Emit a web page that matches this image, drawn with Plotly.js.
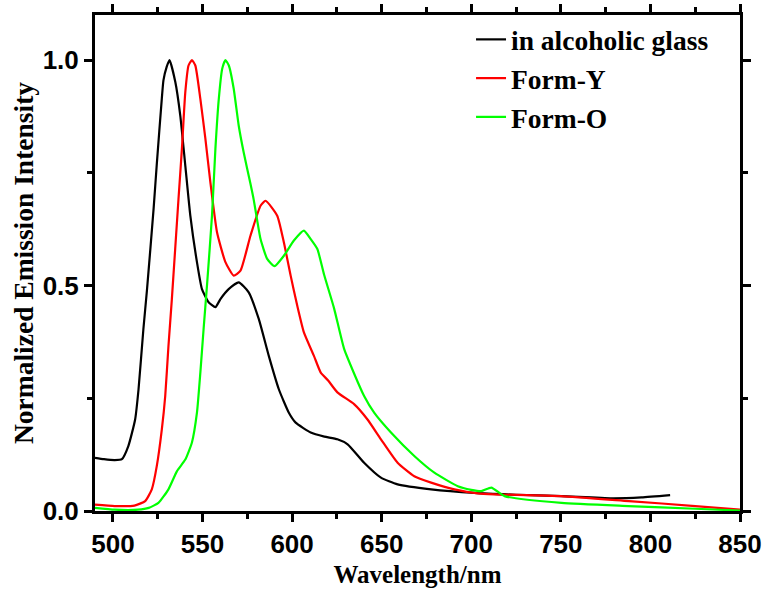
<!DOCTYPE html>
<html>
<head>
<meta charset="utf-8">
<script src="https://cdn.plot.ly/plotly-3.0.1.min.js"></script>
<style>html,body{margin:0;padding:0;background:#fff;}#chart{width:764px;height:594px;}</style>
</head>
<body>
<div id="chart"></div>
<script>
// Series names
const seriesNames = ["in alcoholic glass", "Form-Y", "Form-O"];

// in alcoholic glass (black)
const glassX = [490, 495, 501, 505, 508.6, 512.4, 514.3, 517, 519, 522.7, 524.5, 527.3, 528.2, 530, 531.6, 534.8, 537.6, 540.4, 543.2, 546.9, 549.7, 553.4, 557.2, 560, 564.6, 570.2, 575.8, 581.4, 587, 592.6, 598.2, 602, 610.4, 618, 625.3, 631, 640.2, 649.6, 658.9, 677.6, 701.8, 725, 750.4, 778.4, 795, 811];
const glassY = [0.118, 0.115, 0.113, 0.115, 0.144, 0.203, 0.27, 0.403, 0.49, 0.67, 0.77, 0.915, 0.955, 0.985, 1.0, 0.952, 0.877, 0.766, 0.655, 0.552, 0.492, 0.463, 0.452, 0.47, 0.492, 0.507, 0.485, 0.426, 0.344, 0.27, 0.218, 0.196, 0.174, 0.165, 0.159, 0.148, 0.107, 0.074, 0.059, 0.048, 0.040, 0.036, 0.033, 0.028, 0.030, 0.035];

// Form-Y (red)
const formYX = [490, 501, 512, 518, 521.7, 524.5, 527.3, 529.2, 531, 532.9, 536.6, 538.5, 540.4, 542.2, 544.1, 546, 548.8, 551.6, 554.4, 558.1, 562.8, 567.4, 571.2, 576.8, 582.4, 585.2, 591.7, 595.4, 599.2, 602.9, 606.6, 612.2, 616, 620, 625.3, 634.6, 642.1, 649.6, 658.9, 668.2, 677.6, 690.6, 703.7, 713, 750, 788, 825, 850];
const formYY = [0.014, 0.011, 0.012, 0.022, 0.048, 0.1, 0.181, 0.255, 0.366, 0.47, 0.692, 0.803, 0.929, 0.988, 1.0, 0.988, 0.914, 0.826, 0.729, 0.618, 0.552, 0.522, 0.533, 0.611, 0.677, 0.688, 0.655, 0.596, 0.522, 0.455, 0.396, 0.344, 0.307, 0.29, 0.263, 0.237, 0.203, 0.159, 0.107, 0.077, 0.063, 0.048, 0.039, 0.037, 0.033, 0.022, 0.011, 0.003];

// Form-O (green)
const formOX = [490, 501, 514, 520, 525.4, 531, 535.7, 540.4, 544.1, 546.9, 548.8, 550.6, 552.5, 555.3, 557.2, 559.1, 561, 562.8, 564.7, 567.4, 570.2, 573, 576.8, 578.6, 580.5, 582.4, 586.1, 590.2, 595.4, 601, 606.6, 610.4, 614.1, 617.8, 623.4, 629, 634.6, 640.2, 645.8, 655.2, 668.2, 679.4, 692.5, 700, 705.6, 711.2, 718.6, 750.4, 787.7, 825, 850];
const formOY = [0.007, 0.003, 0.003, 0.007, 0.018, 0.048, 0.088, 0.114, 0.152, 0.218, 0.307, 0.403, 0.5, 0.655, 0.803, 0.914, 0.981, 1.0, 0.988, 0.937, 0.855, 0.795, 0.725, 0.69, 0.645, 0.603, 0.559, 0.543, 0.566, 0.6, 0.622, 0.603, 0.581, 0.525, 0.45, 0.36, 0.305, 0.255, 0.218, 0.174, 0.122, 0.085, 0.055, 0.047, 0.044, 0.052, 0.033, 0.018, 0.011, 0.005, 0.001];

// Tick labels
const xTickVals = [500, 550, 600, 650, 700, 750, 800, 850];
const xTickText = ["500", "550", "600", "650", "700", "750", "800", "850"];
const yTickVals = [0, 0.5, 1.0];
const yTickText = ["0.0", "0.5", "1.0"];

const colors = ["#000000", "#ff0000", "#00ff00"];

const lineStyle = c => ({color: c, width: 2.2, shape: "spline", smoothing: 0.5});
const traces = [
  {x: glassX, y: glassY, name: seriesNames[0], mode: "lines", line: lineStyle(colors[0])},
  {x: formYX, y: formYY, name: seriesNames[1], mode: "lines", line: lineStyle(colors[1])},
  {x: formOX, y: formOY, name: seriesNames[2], mode: "lines", line: lineStyle(colors[2])}
];

const tickFont = {family: "Arial, 'Liberation Sans', sans-serif", size: 26, color: "#000", weight: "bold"};
const serif = "'Times New Roman', 'Liberation Serif', serif";

const layout = {
  width: 764, height: 594,
  margin: {l: 95, r: 24, t: 15, b: 83},
  paper_bgcolor: "#fff", plot_bgcolor: "#fff",
  showlegend: true,
  legend: {
    x: 0.583, y: 1.0, xanchor: "left", yanchor: "top",
    bgcolor: "rgba(0,0,0,0)", borderwidth: 0,
    font: {family: serif, size: 27.5, color: "#000", weight: "bold"},
    tracegroupgap: 0
  },
  xaxis: {
    range: [490, 850],
    tickvals: xTickVals, ticktext: xTickText,
    ticks: "outside", ticklen: 8, tickwidth: 3, tickcolor: "#000",
    minor: {dtick: 25, tick0: 500, ticks: "outside", ticklen: 5, tickwidth: 3, tickcolor: "#000"},
    showline: true, linewidth: 3, linecolor: "#000", mirror: "allticks",
    showgrid: false, zeroline: false,
    tickfont: tickFont,
    title: {text: "Wavelength/nm", font: {family: serif, size: 25, color: "#000", weight: "bold"}, standoff: 8}
  },
  yaxis: {
    range: [0, 1.1],
    tickvals: yTickVals, ticktext: yTickText,
    ticks: "outside", ticklen: 8, tickwidth: 3, tickcolor: "#000",
    minor: {dtick: 0.25, tick0: 0, ticks: "outside", ticklen: 5, tickwidth: 3, tickcolor: "#000"},
    showline: true, linewidth: 3, linecolor: "#000", mirror: "allticks",
    showgrid: false, zeroline: false,
    tickfont: tickFont,
    title: {text: "Normalized Emission Intensity", font: {family: serif, size: 27.5, color: "#000", weight: "bold"}, standoff: 2}
  }
};

Plotly.newPlot("chart", traces, layout, {displayModeBar: false, staticPlot: true});
</script>
</body>
</html>
